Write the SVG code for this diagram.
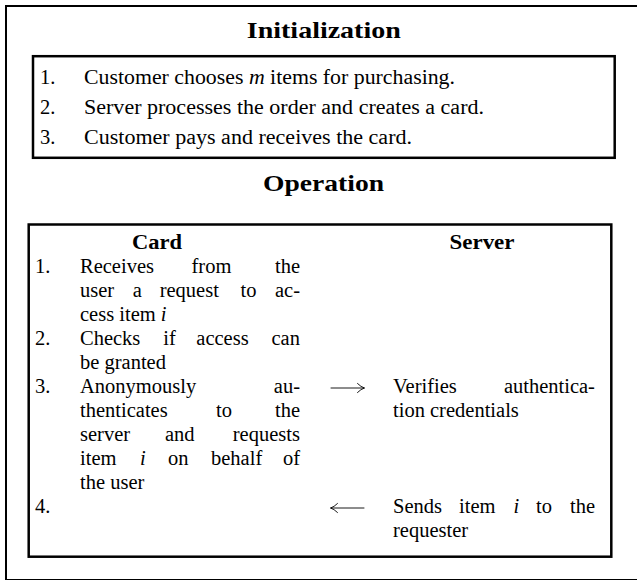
<svg xmlns="http://www.w3.org/2000/svg" width="637" height="581" viewBox="0 0 637 581">
  <style>
    .frame { fill: none; stroke: #000; }
    .box { fill: none; stroke: #000; stroke-width: 2.5; }
    .t { font-family: "Liberation Serif", "Times New Roman", serif; font-size: 20.5px; fill: #000; }
    .h { font-family: "Liberation Serif", "Times New Roman", serif; font-weight: bold; fill: #000; text-anchor: middle; }
    .i { font-style: italic; }
    .arrow { fill: none; stroke: #000; stroke-width: 0.9; stroke-linecap: round; }
  </style>
  <rect width="637" height="581" fill="#fff"/>

  <!-- outer frame (right side runs off the page) -->
  <g id="frame">
    <line class="frame" x1="5" y1="6" x2="637" y2="6" stroke-width="2"/>
    <line class="frame" x1="6" y1="5" x2="6" y2="580" stroke-width="2"/>
    <line class="frame" x1="5" y1="579.5" x2="637" y2="579.5" stroke-width="1.2"/>
  </g>

  <!-- Initialization phase -->
  <g id="init-title">
    <text class="h" x="323.8" y="38" font-size="24" textLength="154" lengthAdjust="spacingAndGlyphs">Initialization</text>
  </g>
  <g id="init-steps">
    <rect class="box" x="33" y="56.2" width="581.7" height="101.6"/>
    <text class="t" x="40" y="84">1.</text>
    <text class="t" x="84" y="84" textLength="371" lengthAdjust="spacingAndGlyphs">Customer chooses <tspan class="i">m</tspan> items for purchasing.</text>
    <text class="t" x="40" y="114">2.</text>
    <text class="t" x="84" y="114" textLength="400" lengthAdjust="spacingAndGlyphs">Server processes the order and creates a card.</text>
    <text class="t" x="40" y="144">3.</text>
    <text class="t" x="84" y="144" textLength="328" lengthAdjust="spacingAndGlyphs">Customer pays and receives the card.</text>
  </g>

  <!-- Operation phase -->
  <g id="op-title">
    <text class="h" x="323.5" y="191" font-size="24" textLength="121" lengthAdjust="spacingAndGlyphs">Operation</text>
  </g>
  <g id="op-table">
    <rect class="box" x="28.7" y="224.5" width="582.6" height="332.2"/>
  </g>

  <!-- card column: justified to x = 80 .. 300 -->
  <g id="card">
    <text class="h" x="157" y="249" font-size="20" textLength="50" lengthAdjust="spacingAndGlyphs">Card</text>
    <text class="t" x="35" y="273">1.</text>
    <text class="t" y="273"><tspan x="80">Receives</tspan><tspan x="191.5">from</tspan><tspan x="275">the</tspan></text>
    <text class="t" y="297"><tspan x="80">user</tspan><tspan x="132.7">a</tspan><tspan x="159.7">request</tspan><tspan x="240.5">to</tspan><tspan x="275">ac-</tspan></text>
    <text class="t" x="80" y="321">cess item <tspan class="i">i</tspan></text>
    <text class="t" x="35" y="345">2.</text>
    <text class="t" y="345"><tspan x="80">Checks</tspan><tspan x="163.2">if</tspan><tspan x="196.3">access</tspan><tspan x="271.5">can</tspan></text>
    <text class="t" x="80" y="369">be granted</text>
    <text class="t" x="35" y="393">3.</text>
    <text class="t" y="393"><tspan x="80">Anonymously</tspan><tspan x="273.8">au-</tspan></text>
    <text class="t" y="417"><tspan x="80">thenticates</tspan><tspan x="216">to</tspan><tspan x="275">the</tspan></text>
    <text class="t" y="441"><tspan x="80">server</tspan><tspan x="165">and</tspan><tspan x="232.8">requests</tspan></text>
    <text class="t" y="465"><tspan x="80">item</tspan><tspan x="140" class="i">i</tspan><tspan x="168">on</tspan><tspan x="211">behalf</tspan><tspan x="282.9">of</tspan></text>
    <text class="t" x="80" y="489">the user</text>
    <text class="t" x="35" y="513">4.</text>
  </g>

  <!-- server column: justified to x = 393 .. 595 -->
  <g id="server">
    <text class="h" x="482" y="249" font-size="20" textLength="65" lengthAdjust="spacingAndGlyphs">Server</text>
    <text class="t" y="393"><tspan x="393">Verifies</tspan><tspan x="503.9">authentica-</tspan></text>
    <text class="t" x="393" y="417">tion credentials</text>
    <text class="t" y="513"><tspan x="393">Sends</tspan><tspan x="459">item</tspan><tspan x="513.5" class="i">i</tspan><tspan x="536">to</tspan><tspan x="570">the</tspan></text>
    <text class="t" x="393" y="537">requester</text>
  </g>

  <!-- messages between card and server -->
  <g id="connectors">
    <path class="arrow" d="M331 388H364"/>
    <path class="arrow" d="M357.5 383.5Q361 387 364.5 388Q361 389 357.5 392.5"/>
    <path class="arrow" d="M331 508H364"/>
    <path class="arrow" d="M337.5 503.5Q334 507 330.5 508Q334 509 337.5 512.5"/>
  </g>
</svg>
